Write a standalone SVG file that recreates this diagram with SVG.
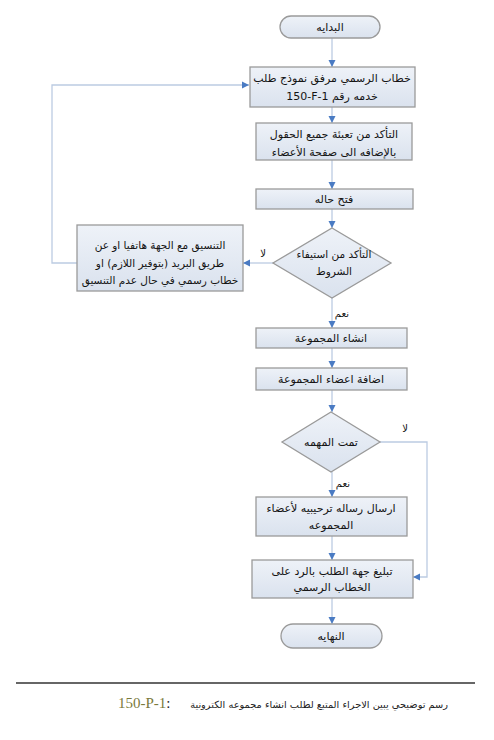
<svg xmlns="http://www.w3.org/2000/svg" width="494" height="740" viewBox="0 0 494 740">
<defs>
<linearGradient id="g" x1="0" y1="0" x2="0" y2="1">
<stop offset="0" stop-color="#eef2f8"/>
<stop offset="1" stop-color="#dae2ee"/>
</linearGradient>
<marker id="ah" markerUnits="userSpaceOnUse" markerWidth="8" markerHeight="8" refX="7" refY="4" orient="auto">
<path d="M0,0.5 L7,4 L0,7.5 z" fill="#4a7bc3"/>
</marker>
</defs>
<style>
.n{fill:url(#g);stroke:#9a9a9a;stroke-width:1.3}
.t{font-family:"DejaVu Sans","Noto Sans",sans-serif;font-size:11px;fill:#141414;text-anchor:middle;direction:rtl}
.s{font-size:10.5px}
.c{fill:none;stroke:#bccbe2;stroke-width:1.3}
.a{marker-end:url(#ah)}
.l{font-family:"DejaVu Sans","Noto Sans",sans-serif;font-size:10px;fill:#141414;text-anchor:middle}
</style>
<rect width="494" height="740" fill="#ffffff"/>
<g id="connectors">
<line class="c a" x1="332" y1="38" x2="332" y2="67"/>
<line class="c a" x1="332" y1="107" x2="332" y2="123"/>
<line class="c a" x1="332" y1="160" x2="332" y2="189"/>
<line class="c a" x1="332" y1="209" x2="332" y2="228"/>
<line class="c a" x1="332" y1="298" x2="332" y2="328"/>
<line class="c a" x1="273" y1="263" x2="243" y2="263"/>
<polyline class="c a" points="77,263 52,263 52,85 249,85"/>
<line class="c a" x1="332" y1="348" x2="332" y2="368"/>
<line class="c a" x1="332" y1="390" x2="332" y2="412"/>
<line class="c a" x1="332" y1="472" x2="332" y2="497"/>
<polyline class="c a" points="380,442 427,442 427,577 413,577"/>
<line class="c a" x1="332" y1="536" x2="332" y2="560"/>
<line class="c a" x1="332" y1="598" x2="332" y2="624"/>
<text class="l" x="263" y="257">لا</text>
<text class="l" x="342" y="317">نعم</text>
<text class="l" x="405" y="432">لا</text>
<text class="l" x="343" y="487">نعم</text>
</g>
<g id="start">
<rect class="n" x="280" y="16" width="100" height="22" rx="11"/>
<text class="t" x="330" y="31">البدايه</text>
</g>
<g id="box1">
<rect class="n" x="250" y="67" width="165" height="40"/>
<text class="t" x="332" y="82">خطاب الرسمي مرفق نموذج طلب</text>
<text class="t" x="332" y="100">خدمه رقم &#x2066;150-F-1&#x2069;</text>
</g>
<g id="box2">
<rect class="n" x="256" y="123" width="156" height="37"/>
<text class="t" x="334" y="138">التأكد من تعبئة جميع الحقول</text>
<text class="t" x="334" y="156">بالإضافه الى صفحة الأعضاء</text>
</g>
<g id="box3">
<rect class="n" x="256" y="189" width="157" height="20"/>
<text class="t" x="334" y="203">فتح حاله</text>
</g>
<g id="decision1">
<polygon class="n" points="332,228 391,263 332,298 273,263"/>
<text class="t s" x="334" y="258">التأكد من استيفاء</text>
<text class="t s" x="334" y="275">الشروط</text>
</g>
<g id="coordinate">
<rect class="n" x="77" y="225" width="166" height="66"/>
<text class="t s" x="160" y="249">التنسيق مع الجهة هاتفيا او عن</text>
<text class="t s" x="160" y="267">طريق البريد (بتوفير اللازم) او</text>
<text class="t s" x="160" y="284">خطاب رسمي في حال عدم التنسيق</text>
</g>
<g id="box4">
<rect class="n" x="256" y="328" width="151" height="20"/>
<text class="t" x="331" y="342">انشاء المجموعة</text>
</g>
<g id="box5">
<rect class="n" x="256" y="368" width="151" height="22"/>
<text class="t" x="331" y="383">اضافة اعضاء المجموعة</text>
</g>
<g id="decision2">
<polygon class="n" points="331,412 380,442 331,472 282,442"/>
<text class="t" x="331" y="446">تمت المهمه</text>
</g>
<g id="box6">
<rect class="n" x="256" y="497" width="151" height="39"/>
<text class="t" x="331" y="512">ارسال رساله ترحيبيه لأعضاء</text>
<text class="t" x="331" y="529">المجموعه</text>
</g>
<g id="box7">
<rect class="n" x="252" y="560" width="161" height="38"/>
<text class="t" x="332" y="575">تبليغ جهة الطلب بالرد على</text>
<text class="t" x="332" y="591">الخطاب الرسمي</text>
</g>
<g id="end">
<rect class="n" x="281" y="624" width="101" height="24" rx="12"/>
<text class="t" x="331" y="640">النهايه</text>
</g>
<g id="caption">
<line x1="16" y1="683" x2="475" y2="683" stroke="#333333" stroke-width="1.5"/>
<text x="118" y="708" font-family="'Liberation Serif',serif" font-size="15" fill="#222222"><tspan fill="#7a7a3c">150-P-1</tspan>:</text>
<text x="448" y="708" font-family="'DejaVu Sans',sans-serif" font-size="9.8" fill="#222222" text-anchor="end">رسم توضيحي يبين الاجراء المتبع لطلب انشاء مجموعه الكترونية</text>
</g>
</svg>
